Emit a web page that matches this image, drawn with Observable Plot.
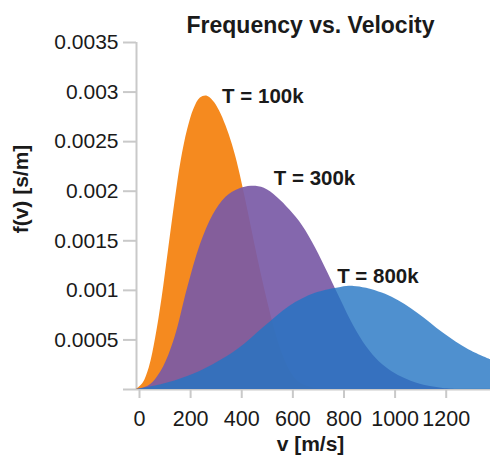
<!DOCTYPE html>
<html>
<head>
<meta charset="utf-8">
<script src="https://cdn.jsdelivr.net/npm/d3@7"></script>
<script src="https://cdn.jsdelivr.net/npm/@observablehq/plot@0.6"></script>
<style>
  html, body { margin: 0; padding: 0; background: #fff; }
</style>
</head>
<body>
<div id="chart"></div>
<script>
// ---- data ----
const seriesNames = ["T = 100k", "T = 300k", "T = 800k"];

const v100 = [0, 25, 50, 75, 100, 125, 150, 175, 200, 225, 250, 275, 300, 325, 350, 375, 400, 425, 450, 475, 500, 525, 550, 575, 600, 625, 650, 700, 750];
const f100 = [0, 0.00006, 0.00022, 0.00052, 0.00092, 0.00140, 0.00188, 0.00231, 0.00262, 0.00283, 0.00294, 0.00296, 0.00291, 0.00281, 0.00266, 0.00247, 0.00223, 0.00194, 0.00163, 0.00132, 0.00103, 0.00076, 0.00052, 0.00033, 0.00019, 0.00010, 0.00005, 0.00001, 0];

const v300 = [0, 50, 100, 150, 200, 250, 300, 350, 400, 450, 500, 550, 600, 650, 700, 750, 800, 850, 900, 950, 1000, 1050, 1100, 1150, 1200, 1250];
const f300 = [0, 0.00004, 0.0002, 0.00052, 0.00102, 0.00146, 0.00176, 0.00194, 0.00202, 0.00205, 0.00203, 0.00194, 0.00181, 0.00165, 0.00143, 0.00117, 0.00090, 0.00064, 0.00043, 0.00028, 0.00018, 0.00011, 0.00006, 0.00003, 0.00001, 0];

const v800 = [0, 100, 200, 300, 400, 500, 600, 700, 800, 850, 900, 1000, 1100, 1200, 1300, 1385];
const f800 = [0, 0.00005, 0.00013, 0.00025, 0.00041, 0.00063, 0.00084, 0.00097, 0.00103, 0.00104, 0.00102, 0.00093, 0.00077, 0.00057, 0.00040, 0.00030];

const xTicks = [0, 200, 400, 600, 800, 1000, 1200];
const yTicks = [0, 0.0005, 0.001, 0.0015, 0.002, 0.0025, 0.003, 0.0035];
const yTickLabels = ["", "0.0005", "0.001", "0.0015", "0.002", "0.0025", "0.003", "0.0035"];

const labelV = [335, 537, 785];
const labelF = [0.00296, 0.00213, 0.00114];

const titleText = "Frequency vs. Velocity";
const xLabel = "v [m/s]";
const yLabel = "f(v) [s/m]";

// ---- build tables ----
const toRows = (vs, fs, s) => vs.map((v, i) => ({v, f: fs[i], s}));
const rows100 = toRows(v100, f100, seriesNames[0]);
const rows300 = toRows(v300, f300, seriesNames[1]);
const rows800 = toRows(v800, f800, seriesNames[2]);
const labels = seriesNames.map((s, i) => ({s, v: labelV[i], f: labelF[i]}));

const font = "'Liberation Sans', Arial, Helvetica, sans-serif";
const grey = "#c9c9c9";
const ink = "#1a1a1a";

const chart = Plot.plot({
  width: 492,
  height: 456,
  marginLeft: 136,
  marginRight: 2,
  marginTop: 42,
  marginBottom: 67,
  style: {fontFamily: font, background: "#fff", overflow: "visible"},
  x: {domain: [0, 1385], axis: null},
  y: {domain: [0, 0.0035], axis: null},
  marks: [
    // axis lines
    Plot.ruleY([0], {x1: 0, x2: 1385, stroke: grey, strokeWidth: 2}),
    Plot.ruleX([0], {y1: 0, y2: 0.0035, stroke: grey, strokeWidth: 2}),
    // areas
    Plot.areaY(rows100, {x: "v", y: "f", fill: "#f58a1f", fillOpacity: 1, curve: "catmull-rom"}),
    Plot.areaY(rows300, {x: "v", y: "f", fill: "#795aa6", fillOpacity: 0.92, curve: "catmull-rom"}),
    Plot.areaY(rows800, {x: "v", y: "f", fill: "#2374c3", fillOpacity: 0.8, curve: "catmull-rom"}),
    // axes
    Plot.axisY(yTicks, {
      tickSize: 13, tickPadding: 5, stroke: grey, strokeWidth: 2, color: ink,
      fontSize: 21, tickFormat: (d) => yTickLabels[yTicks.indexOf(d)], label: null
    }),
    Plot.axisX(xTicks, {
      tickSize: 9, tickPadding: 12, stroke: grey, strokeWidth: 2, color: ink,
      fontSize: 21.5, dx: 3, tickFormat: d => String(d), label: null
    }),
    // series labels
    Plot.text(labels, {x: "v", y: "f", text: "s", textAnchor: "start", lineAnchor: "middle",
      fontSize: 20.5, fontWeight: "bold", fill: ink}),
    // title and axis labels
    Plot.text([titleText], {frameAnchor: "top", dy: -17, dx: -3, lineAnchor: "middle", textAnchor: "middle",
      fontSize: 23, fontWeight: "bold", fill: ink}),
    Plot.text([xLabel], {frameAnchor: "bottom", dy: 55, dx: -3, lineAnchor: "middle", textAnchor: "middle",
      fontSize: 21, fontWeight: "bold", fill: ink}),
    Plot.text([yLabel], {frameAnchor: "left", dx: -115, dy: -27, rotate: -90, lineAnchor: "middle", textAnchor: "middle",
      fontSize: 21, fontWeight: "bold", fill: ink})
  ]
});

document.getElementById("chart").appendChild(chart);
</script>
</body>
</html>
